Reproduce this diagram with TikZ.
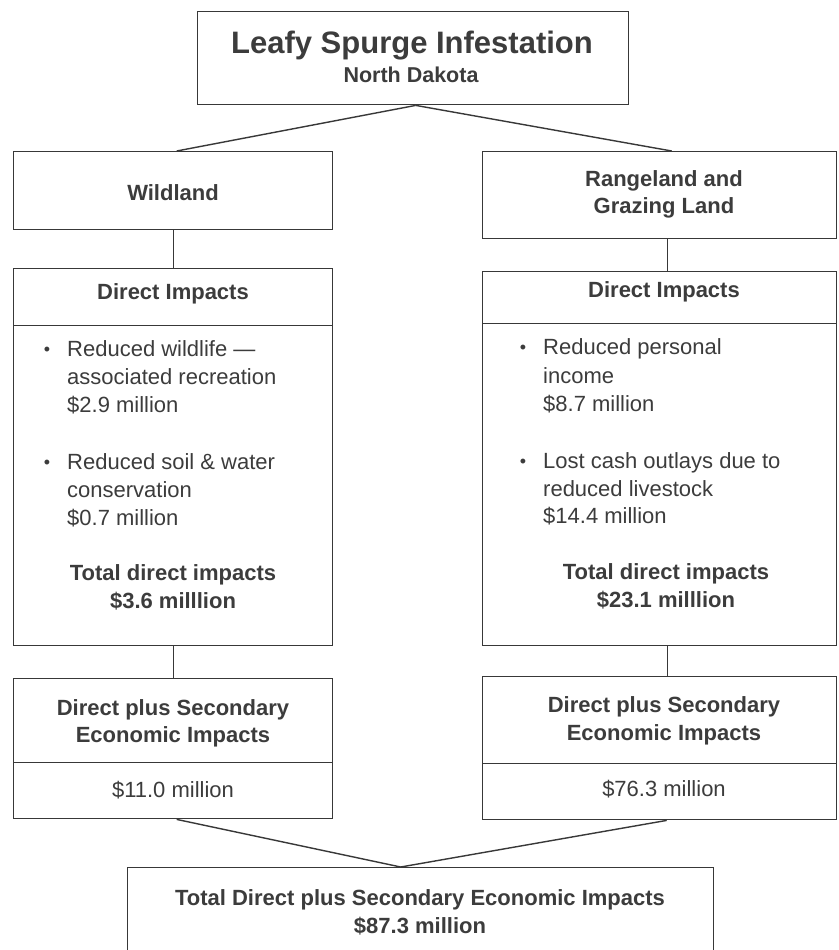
\documentclass[tikz,border=0pt]{standalone}
\usepackage{fontspec}
\setmainfont{Liberation Sans}
\usetikzlibrary{calc}
\definecolor{ink}{HTML}{3C3C3C}
\definecolor{edge}{HTML}{383838}
\begin{document}
\begin{tikzpicture}[x=1pt,y=-1pt,
  box/.style={draw=edge, line width=1.4pt, inner sep=0pt, anchor=north west},
  conn/.style={draw=edge, line width=1.4pt},
  txt/.style={text=ink, inner sep=0pt, font=\fontsize{22}{27}\selectfont},
  txtl/.style={txt, anchor=base west},
  hd/.style={text=ink, inner sep=0pt, anchor=base, font=\bfseries\fontsize{22}{27}\selectfont},
  bul/.style={text=ink, inner sep=0pt, anchor=base, font=\fontsize{18}{22}\selectfont}]
\fill[white] (0,0) rectangle (838,950);
\useasboundingbox (0,0) rectangle (838,950);

% boxes
\node[box, minimum width=431pt, minimum height=93pt] (top) at (197,11) {};
\node[box, minimum width=319pt, minimum height=78pt] (wild) at (13,151) {};
\node[box, minimum width=354pt, minimum height=87pt] (rang) at (482,151) {};
\node[box, minimum width=319pt, minimum height=57pt] (ldh) at (13,268) {};
\node[box, minimum width=319pt, minimum height=320pt] (ldb) at (13,325) {};
\node[box, minimum width=354pt, minimum height=52pt] (rdh) at (482,271) {};
\node[box, minimum width=354pt, minimum height=322pt] (rdb) at (482,323) {};
\node[box, minimum width=319pt, minimum height=84pt] (lsh) at (13,678) {};
\node[box, minimum width=319pt, minimum height=56pt] (lsv) at (13,762) {};
\node[box, minimum width=354pt, minimum height=87pt] (rsh) at (482,676) {};
\node[box, minimum width=354pt, minimum height=56pt] (rsv) at (482,763) {};
\node[box, minimum width=586pt, minimum height=120pt] (tot) at (127,867) {};

% connectors
\draw[conn] ($(top.south)+(2.5,0)$) -- ($(wild.north)+(3.5,0)$);
\draw[conn] ($(top.south)+(2.5,0)$) -- ($(rang.north)+(12,0)$);
\draw[conn] (wild.south) -- (ldh.north);
\draw[conn] ($(rang.south)+(8,0)$) -- ($(rdh.north)+(8,0)$);
\draw[conn] (ldb.south) -- (lsh.north);
\draw[conn] ($(rdb.south)+(8,0)$) -- ($(rsh.north)+(8,0)$);
\draw[conn] ($(lsv.south)+(3.5,0)$) -- ($(tot.north)+(-20,0)$);
\draw[conn] ($(rsv.south)+(7,0)$) -- ($(tot.north)+(-20,0)$);

% title
\node[hd, font=\bfseries\fontsize{31}{31}\selectfont] (t1) at (412,53) {Leafy Spurge Infestation};
\node[hd, font=\bfseries\fontsize{21.5}{22}\selectfont] (t2) at (411,82) {North Dakota};

% land types
\node[hd] (wt) at (173,200) {Wildland};
\node[hd] (rt1) at (664,186) {Rangeland and};
\node[hd] (rt2) at (664,213) {Grazing Land};

% direct impacts headers
\node[hd] (ldt) at (173,299) {Direct Impacts};
\node[hd] (rdt) at (664,297) {Direct Impacts};

% left bullets
\node[bul] (lb1) at (47,355) {•};
\node[txtl] (l11) at (67,356) {Reduced wildlife —};
\node[txtl] (l12) at (67,384.5) {associated recreation};
\node[txtl] (l13) at (67,412) {\$2.9 million};
\node[bul] (lb2) at (47,468) {•};
\node[txtl] (l21) at (67,469) {Reduced soil \& water};
\node[txtl] (l22) at (67,497) {conservation};
\node[txtl] (l23) at (67,525) {\$0.7 million};
\node[hd] (lt1) at (173,580) {Total direct impacts};
\node[hd] (lt2) at (173,608) {\$3.6 milllion};

% right bullets
\node[bul] (rb1) at (523,353) {•};
\node[txtl] (r11) at (543,354) {Reduced personal};
\node[txtl] (r12) at (543,383) {income};
\node[txtl] (r13) at (543,411) {\$8.7 million};
\node[bul] (rb2) at (523,467) {•};
\node[txtl] (r21) at (543,468) {Lost cash outlays due to};
\node[txtl] (r22) at (543,496) {reduced livestock};
\node[txtl] (r23) at (543,523) {\$14.4 million};
\node[hd] (rt3) at (666,579) {Total direct impacts};
\node[hd] (rt4) at (666,607) {\$23.1 milllion};

% secondary
\node[hd] (ls1) at (173,715) {Direct plus Secondary};
\node[hd] (ls2) at (173,742) {Economic Impacts};
\node[txt, anchor=base] (lsv1) at (173,797) {\$11.0 million};
\node[hd] (rs1) at (664,712) {Direct plus Secondary};
\node[hd] (rs2) at (664,740) {Economic Impacts};
\node[txt, anchor=base] (rsv1) at (664,796) {\$76.3 million};

% total
\node[hd] (tt1) at (420,905) {Total Direct plus Secondary Economic Impacts};
\node[hd] (tt2) at (420,933) {\$87.3 million};
\end{tikzpicture}
\end{document}
